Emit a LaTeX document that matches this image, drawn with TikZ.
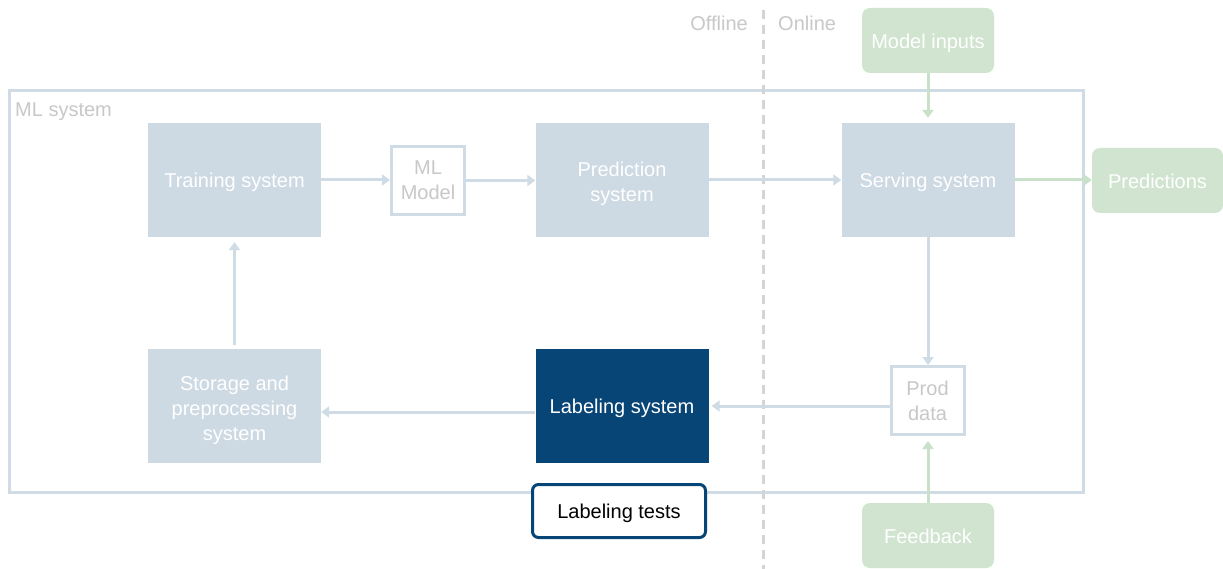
\documentclass[tikz,border=0pt]{standalone}
\usepackage{fontspec}
\setmainfont{Liberation Sans}
\usetikzlibrary{arrows.meta}
\definecolor{boxblue}{RGB}{205,218,228}
\definecolor{lineblue}{RGB}{207,220,230}
\definecolor{gfill}{RGB}{208,228,208}
\definecolor{gline}{RGB}{200,225,200}
\definecolor{dblue}{RGB}{8,69,119}
\definecolor{gtext}{RGB}{200,200,200}
\definecolor{dashgray}{RGB}{212,212,212}
\newcommand\topstrut[1]{\rule{0pt}{#1}}
\tikzset{
  every node/.style={font=\fontsize{20}{25}\selectfont, inner sep=0pt, align=center},
  lower/.style={execute at begin node={\topstrut{#1}}},
  lower/.default=19.5pt,
  sysbox/.style={lower, fill=boxblue, text=white, minimum width=173pt, minimum height=114pt},
  outbox/.style={lower, draw=lineblue, line width=3pt, fill=white, text=gtext, minimum width=73pt, minimum height=68pt},
  greenbox/.style={fill=gfill, text=white, rounded corners=8pt, minimum width=132pt, minimum height=65pt},
  conn/.style={draw=lineblue, line width=3pt, -{Triangle[width=11pt,length=8pt]}},
  gconn/.style={draw=gline, line width=3pt, -{Triangle[width=11pt,length=8pt]}},
  lbl/.style={text=gtext}
}
\begin{document}
\begin{tikzpicture}[x=1pt,y=-1pt]
\useasboundingbox[fill=white] (0,0) rectangle (1223,569);
% outer ML system frame
\node[draw=lineblue, line width=3pt, minimum width=1074pt, minimum height=401pt] (frame) at (546,291.5) {};
\node[lbl, anchor=west] (mllabel) at (15,111.5) {ML system};
% offline/online
\coordinate (dtop) at (763,10);
\coordinate (dbot) at (763,569);
\draw[dashgray, line width=3pt, dash pattern=on 9pt off 6pt] (dtop) -- (dbot);
\node[lbl, anchor=east] (offline) at (748,23) {Offline};
\node[lbl, anchor=west] (online) at (778,23) {Online};
% boxes
\node[sysbox] (train) at (234.5,180) {Training system};
\node[outbox] (mlmodel) at (428,180.5) {ML\\Model};
\node[sysbox] (pred) at (622,180) {\topstrut{21.5pt}Prediction\\system};
\node[sysbox] (serve) at (928,180) {Serving system};
\node[greenbox, lower] (inputs) at (928,40.5) {Model inputs};
\node[greenbox, lower=16pt, minimum width=131pt] (predictions) at (1157.5,180.5) {Predictions};
\node[sysbox] (store) at (234.5,406) {\topstrut{22.5pt}Storage and\\preprocessing\\system};
\node[sysbox, fill=dblue] (label) at (622,406) {Labeling system};
\node[outbox] (prod) at (927.5,400.5) {Prod\\data};
\node[lower, draw=dblue, line width=3pt, fill=white, rounded corners=6pt, text=black, minimum width=173pt, minimum height=53pt] (tests) at (619,511) {Labeling tests};
\node[greenbox, lower=16pt] (feedback) at (928,535.5) {Feedback};
% connectors
\draw[conn] (train.east) -- (train.east -| mlmodel.west);
\draw[conn] (mlmodel.east) -- (mlmodel.east -| pred.west);
\draw[conn] (pred.east) -- (serve.west);
\draw[gconn] (serve.east) -- (serve.east -| predictions.west);
\draw[gconn] (inputs.south) -- ([yshift=5pt]serve.north);
\draw[conn] (serve.south) -- (serve.south |- prod.north);
\draw[conn] (prod.west |- label.east) -- ([xshift=3pt]label.east);
\draw[conn] ([yshift=-6pt]label.west) -- ([yshift=-6pt]store.east);
\draw[conn] ([yshift=4pt]store.north) -- ([yshift=-5pt]train.south);
\draw[gconn] (feedback.north) -- ([yshift=-5pt]feedback.north |- prod.south);
\end{tikzpicture}
\end{document}
